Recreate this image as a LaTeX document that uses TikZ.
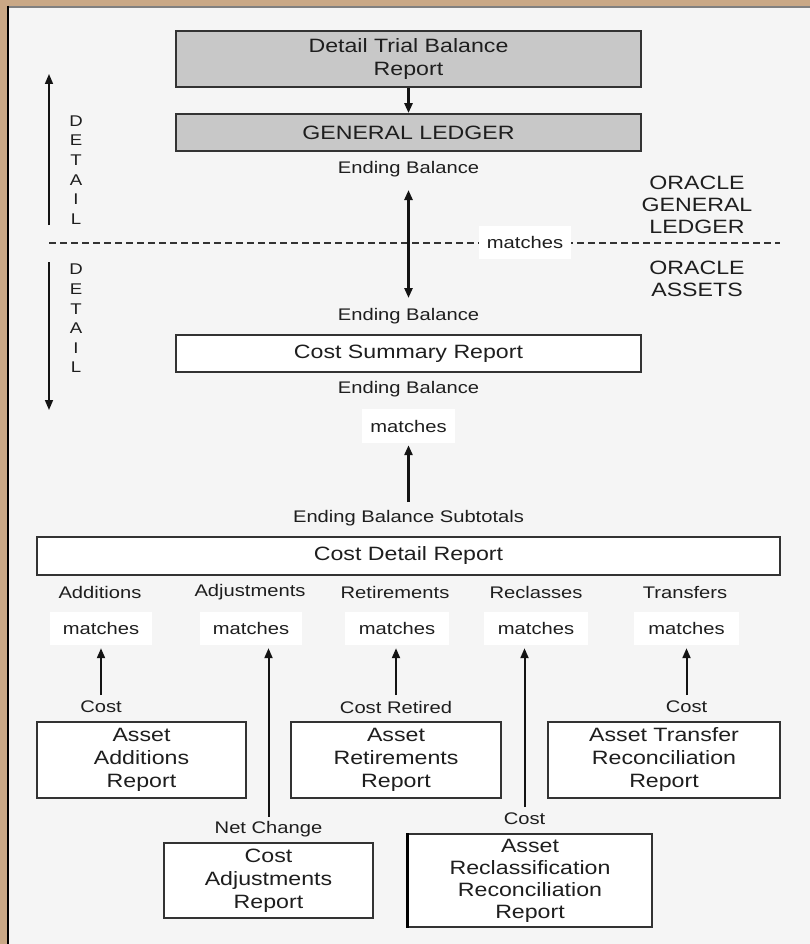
\documentclass[tikz,border=0pt]{standalone}
\usepackage{fontspec}
\setmainfont{Liberation Sans}[FakeStretch=1.2]
\usetikzlibrary{arrows.meta}
\definecolor{frametan}{HTML}{C9A886}
\definecolor{innerbg}{HTML}{F5F5F5}
\definecolor{boxgray}{HTML}{C8C8C8}
\definecolor{boxline}{HTML}{333333}
\definecolor{txt}{HTML}{1E1E1E}
\definecolor{arrowc}{HTML}{141414}
\begin{document}
\begin{tikzpicture}[x=1pt,y=-1pt,
  big/.style={font=\fontsize{19.3}{23}\selectfont,text=txt},
  small/.style={font=\fontsize{16.8}{20}\selectfont,text=txt},
  lbl/.style={small,inner sep=0pt},
  rep/.style={draw=boxline,line width=1.8pt,fill=white,big,align=center,inner sep=0pt},
  grayrep/.style={rep,fill=boxgray},
  mbox/.style={fill=white,small,inner sep=0pt,minimum height=33pt},
  arr/.style={draw=arrowc,line width=2pt,-{Triangle[length=10pt,width=8pt]}},
  thickarr/.style={arr,line width=3pt},
]
\useasboundingbox (0,0) rectangle (810,944);
\fill[frametan] (0,0) rectangle (810,944);
\fill[innerbg] (8,7) rectangle (810,944);
\draw[gray,line width=2pt] (8,7) -- (810,7);
\draw[black,line width=2pt] (8,6) -- (8,944);

% top part
\node[grayrep,minimum width=465pt,minimum height=56pt] (dtb) at (408.5,59) {Detail Trial Balance\\Report};
\node[grayrep,minimum width=465pt,minimum height=37pt] (gl) at (408.5,132.5) {GENERAL LEDGER};
\draw[thickarr] (dtb) -- (gl);

\node[lbl] (eb1) at (408.5,169) {Ending Balance};
\node[lbl] (eb2) at (408.5,316) {Ending Balance};

\coordinate (dl) at (49,243);
\coordinate (dr) at (780,243);
\draw[boxline,line width=1.3pt,dash pattern=on 7pt off 4pt] (dl) -- (dr);
\node[mbox,minimum width=92pt] (m0) at (525,242.5) {matches};
\draw[thickarr,{Triangle[length=10pt,width=8pt]}-{Triangle[length=10pt,width=8pt]},shorten <=21pt,shorten >=18pt] (eb1.center) -- (eb2.center);

\node[big,align=center,font=\fontsize{19.3}{22}\selectfont] (ogl) at (697,205) {ORACLE\\GENERAL\\LEDGER};
\node[big,align=center,font=\fontsize{19.3}{22}\selectfont] (oas) at (697,279) {ORACLE\\ASSETS};

\node[small,align=center,font=\fontsize{15.5}{19.6}\selectfont] (d1) at (76,170) {D\\E\\T\\A\\I\\L};
\node[small,align=center,font=\fontsize{15.5}{19.6}\selectfont] (d2) at (76,318.5) {D\\E\\T\\A\\I\\L};
\coordinate (ua1) at (49,225);
\coordinate (ua2) at (49,74);
\coordinate (da1) at (49,262);
\coordinate (da2) at (49,410);
\draw[arr,line width=1.6pt] (ua1) -- (ua2);
\draw[arr,line width=1.6pt] (da1) -- (da2);

% cost summary
\node[rep,minimum width=465pt,minimum height=37pt] (csr) at (408.5,353.5) {Cost Summary Report};
\node[lbl] (eb3) at (408.5,389) {Ending Balance};
\node[mbox,minimum width=93pt,minimum height=34pt] (m1) at (408.5,426) {matches};
\node[lbl] (ebs) at (408.5,518) {Ending Balance Subtotals};
\draw[thickarr,shorten <=16pt,shorten >=2pt] (ebs.center) -- (m1.south);

% cost detail
\node[rep,minimum width=743pt,minimum height=38pt] (cdr) at (408.5,556) {Cost Detail Report};

\node[lbl] (lA) at (100,592) {Additions};
\node[lbl] (lB) at (250,592) {Adjustments};
\node[lbl] (lC) at (395,592) {Retirements};
\node[lbl] (lD) at (536,592) {Reclasses};
\node[lbl] (lE) at (685,592) {Transfers};

\node[mbox,minimum width=102pt] (mA) at (101,628.5) {matches};
\node[mbox,minimum width=102pt] (mB) at (251,628.5) {matches};
\node[mbox,minimum width=104pt] (mC) at (397,628.5) {matches};
\node[mbox,minimum width=104pt] (mD) at (536,628.5) {matches};
\node[mbox,minimum width=105pt] (mE) at (686.5,628.5) {matches};

\node[lbl] (cA) at (101,707) {Cost};
\node[lbl] (cC) at (396,707) {Cost Retired};
\node[lbl] (cE) at (686.5,707) {Cost};
\node[lbl] (cB) at (268.5,829) {Net Change};
\node[lbl] (cD) at (524.5,819) {Cost};

\draw[arr,shorten <=12pt,shorten >=3pt] (cA.center) -- (cA.center |- mA.south);
\draw[arr,shorten <=12pt,shorten >=3pt] (cB.center) -- (cB.center |- mB.south);
\draw[arr,shorten <=12pt,shorten >=3pt] (cC.center) -- (cC.center |- mC.south);
\draw[arr,shorten <=12pt,shorten >=3pt] (cD.center) -- (cD.center |- mD.south);
\draw[arr,shorten <=12pt,shorten >=3pt] (cE.center) -- (cE.center |- mE.south);

% reports
\node[rep,minimum width=209pt,minimum height=76pt] (rA) at (141.5,760) {Asset\\Additions\\Report};
\node[rep,minimum width=210pt,minimum height=76pt] (rC) at (396,760) {Asset\\Retirements\\Report};
\node[rep,minimum width=232pt,minimum height=76pt] (rE) at (664,760) {Asset Transfer\\Reconciliation\\Report};
\node[rep,minimum width=209pt,minimum height=75pt] (rB) at (268.5,880.5) {Cost\\Adjustments\\Report};
\node[rep,minimum width=244pt,minimum height=93pt,font=\fontsize{19.3}{22}\selectfont] (rD) at (530,880.5) {Asset\\Reclassification\\Reconciliation\\Report};
\draw[black,line width=3.2pt] (rD.north west) -- (rD.south west);
\end{tikzpicture}
\end{document}
